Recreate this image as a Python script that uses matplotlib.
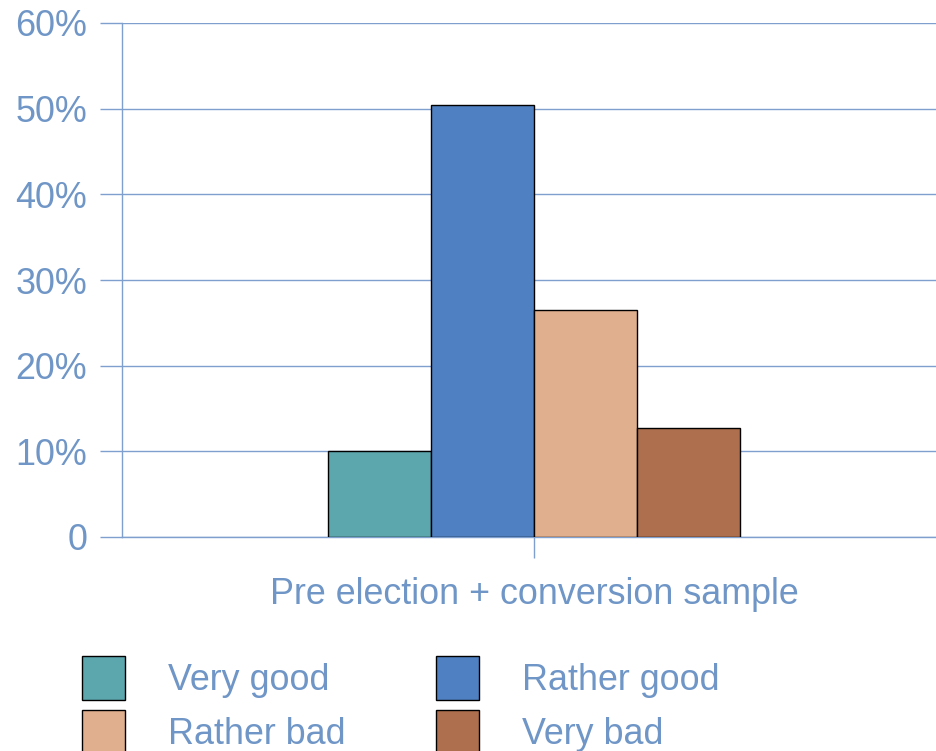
import matplotlib.pyplot as plt
from matplotlib.patches import Patch

plt.rcParams['font.family'] = ['Liberation Sans', 'DejaVu Sans']

# Share of answers per rating, in percent
categories = ['Very good', 'Rather good', 'Rather bad', 'Very bad']
values = [10.0, 50.4, 26.5, 12.7]
colors = ['#5ca6ad', '#4f81c2', '#e0af8d', '#ae6f4e']
group_label = 'Pre election + conversion sample'
y_ticks = [0, 10, 20, 30, 40, 50, 60]
y_tick_labels = ['0', '10%', '20%', '30%', '40%', '50%', '60%']

text_color = '#6f96c6'
line_color = '#7f9fcf'
fsize = 25.8

fig = plt.figure(figsize=(9.37, 7.51), dpi=100)
ax = fig.add_axes([122 / 937, 214 / 751, 824 / 937, 514 / 751])

width = 0.125
offsets = [-1.5, -0.5, 0.5, 1.5]
for cat, val, col, off in zip(categories, values, colors, offsets):
    ax.bar(off * width, val, width=width, color=col, edgecolor='black',
           linewidth=1, zorder=3, label=cat)

ax.set_xlim(-0.5, 0.5)
ax.set_ylim(0, 60)
ax.set_yticks(y_ticks)
ax.set_yticklabels(y_tick_labels)
ax.set_xticks([0])
ax.set_xticklabels([''])
ax.set_xlabel(group_label, fontsize=fsize, color=text_color, va='center')
ax.xaxis.set_label_coords(0.5, -0.111)

ax.grid(axis='y', color=line_color, linewidth=1, zorder=0)
ax.tick_params(axis='y', length=16, width=1, color=line_color,
               labelsize=fsize, labelcolor=text_color, pad=9)
ax.tick_params(axis='x', length=15, width=1, color=line_color)

for side in ['top', 'right']:
    ax.spines[side].set_visible(False)
for side in ['left', 'bottom']:
    ax.spines[side].set_color(line_color)
    ax.spines[side].set_linewidth(1)

# Legend filled column by column: two rows, two columns
order = [0, 2, 1, 3]
handles = [Patch(facecolor=colors[i], edgecolor='black', linewidth=1) for i in order]
labels = [categories[i] for i in order]
fig.legend(handles, labels, ncol=2, loc='upper left',
           bbox_to_anchor=(68 / 937, 1 - 642 / 751),
           frameon=False, fontsize=fsize, labelcolor=text_color,
           handlelength=1.2, handleheight=1.48, handletextpad=1.2,
           columnspacing=2.52, labelspacing=0.3, borderaxespad=0)

fig.savefig('out.png', dpi=100)
